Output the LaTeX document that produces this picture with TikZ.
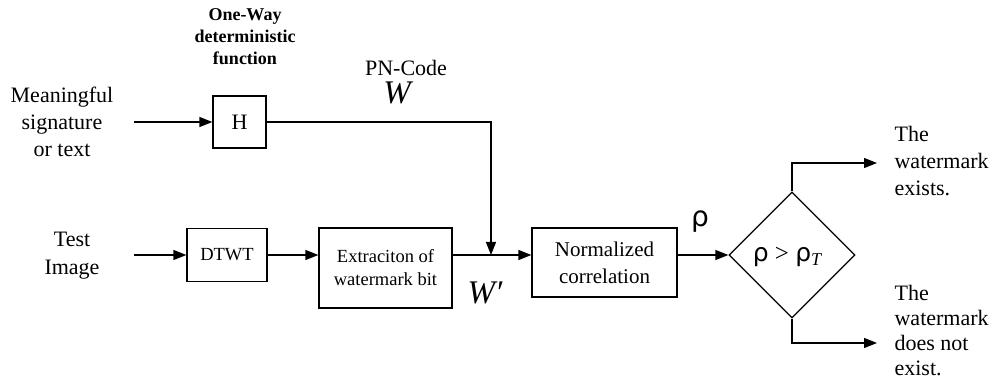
\documentclass[tikz,border=0pt]{standalone}
\usepackage{fontspec}
\setmainfont{Liberation Serif}
\newfontfamily\rhofont{DejaVu Sans}
\usetikzlibrary{arrows.meta,shapes.geometric}

\begin{document}
\begin{tikzpicture}[x=1pt,y=-1pt,
  line width=1.2pt,
  >={Triangle[length=13pt,width=10pt]},
  blockbox/.style={draw, inner sep=0pt, align=center},
  txt/.style={inner sep=0pt, align=center},
  bigfont/.style={font=\fontsize{22}{27}\selectfont},
]
\useasboundingbox (0,0) rectangle (996,382);

% processing blocks
\node[blockbox, minimum width=53, minimum height=52, font=\fontsize{22}{26}\selectfont] (h) at (239.5,122) {H};
\node[blockbox, minimum width=80, minimum height=53, font=\fontsize{18.5}{22}\selectfont] (dtwt) at (227,255) {DTWT};
\node[blockbox, minimum width=133, minimum height=80, font=\fontsize{18.5}{23}\selectfont] (ext) at (385.5,268) {Extraciton of\\watermark bit};
\node[blockbox, minimum width=145, minimum height=69, font=\fontsize{21}{27}\selectfont] (norm) at (604.5,262.5) {Normalized\\correlation};
\node[draw, diamond, minimum width=126, minimum height=126, inner sep=0pt] (dec) at (792,255) {};
\node[txt, font=\fontsize{25}{25}\selectfont] (dectext) at (787,257) {{\rhofont ρ} > {\rhofont ρ}\raisebox{-0.35ex}{\fontsize{18}{18}\selectfont\itshape T}};

% free ends of the connectors
\coordinate (sigin) at (134,122);
\coordinate (imgin) at (134,255);
\coordinate (join) at (491,255);
\coordinate (yesend) at (877,163);
\coordinate (noend) at (877,343);

% connectors
\draw[->] (sigin) -- (h.west);
\draw[->] (h.east) -| (join);
\draw[->] (imgin) -- (dtwt.west);
\draw[->] (dtwt.east) -- (dtwt.east -| ext.west);
\draw (ext.east |- join) -- (join);
\draw[->] (join) -- (norm.west |- join);
\draw[->] (norm.east |- dec.west) -- (dec.west);
\draw[->] (dec.north) |- (yesend);
\draw[->] (dec.south) |- (noend);

% labels
\node[txt, bigfont] (sig) at (62,122) {Meaningful\\signature\\or text};
\node[txt, font=\fontsize{22}{28}\selectfont] (img) at (72,256) {Test\\Image};
\node[txt, font=\bfseries\fontsize{18}{22}\selectfont] (owf) at (245,37) {One-Way\\deterministic\\function};
\node[txt, font=\fontsize{22}{26}\selectfont] (pn) at (406,68) {PN-Code};
\node[txt, font=\itshape\fontsize{33}{33}\selectfont] (w) at (397,93) {W};
\node[txt, font=\itshape\fontsize{33}{33}\selectfont] (wp) at (485,293) {W′};
\node[txt, font=\rhofont\fontsize{28}{28}\selectfont] (rho) at (700,222) {ρ};
\node[txt, bigfont, align=left, anchor=west] (yes) at (894,161) {The\\watermark\\exists.};
\node[txt, font=\fontsize{22}{25}\selectfont, align=left, anchor=west] (no) at (894,331) {The\\watermark\\does not\\exist.};
\end{tikzpicture}
\end{document}
